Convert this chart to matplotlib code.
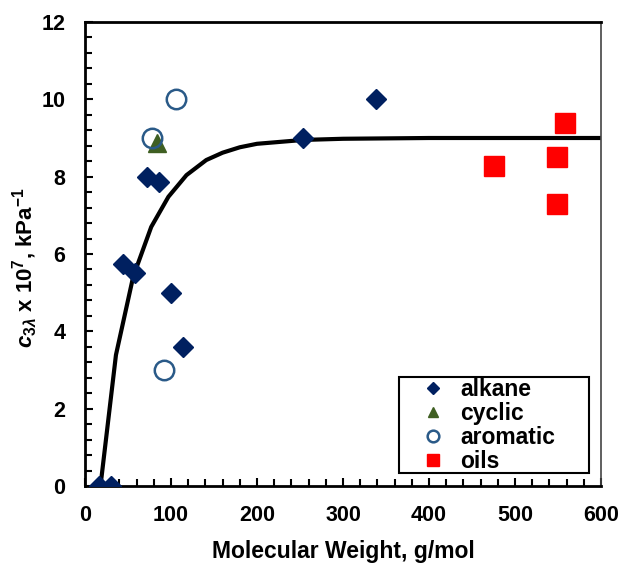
import matplotlib
matplotlib.use("Agg")
import matplotlib.pyplot as plt
from matplotlib.ticker import MultipleLocator
from matplotlib.patches import Rectangle

plt.rcParams['font.family'] = ['Liberation Sans', 'DejaVu Sans']
plt.rcParams['font.weight'] = 'bold'
plt.rcParams['mathtext.fontset'] = 'custom'
plt.rcParams['mathtext.rm'] = 'Liberation Sans:bold'
plt.rcParams['mathtext.it'] = 'Liberation Sans:italic'
plt.rcParams['mathtext.bf'] = 'Liberation Sans:bold'

# Measured data by compound class
alkane_mw = [16, 30, 44, 58, 72, 86, 100, 114, 254, 338]
alkane_c3 = [0.0, 0.0, 5.75, 5.5, 8.0, 7.85, 5.0, 3.6, 9.0, 10.0]

cyclic_mw = [84]
cyclic_c3 = [8.87]

aromatic_mw = [78, 92, 106]
aromatic_c3 = [9.0, 3.0, 10.0]

oils_mw = [475, 549, 549, 558]
oils_c3 = [8.27, 8.5, 7.3, 9.4]

# Fitted trend line
fit_mw = [18, 36, 56, 77, 97, 118, 141, 160, 180, 200, 227, 254, 300, 400, 500, 600]
fit_c3 = [0.0, 3.39, 5.41, 6.7, 7.48, 8.04, 8.43, 8.62, 8.76, 8.85, 8.9, 8.95, 8.98, 9.0, 9.0, 9.0]

fig = plt.figure(figsize=(6.22, 5.65), dpi=100)
ax = fig.add_axes([85/622, 79/565, 516/622, 464/565])

ax.plot(fit_mw, fit_c3, color='black', lw=3, zorder=2)
ax.plot(alkane_mw, alkane_c3, 'D', color='#002060', ms=10, ls='none', label='alkane', zorder=3)
ax.plot(cyclic_mw, cyclic_c3, '^', color='#3F5F22', ms=13, ls='none', label='cyclic', zorder=3)
ax.plot(aromatic_mw, aromatic_c3, 'o', mfc='none', mec='#2A5A88', mew=1.8, ms=14, ls='none', label='aromatic', zorder=4)
ax.plot(oils_mw, oils_c3, 's', color='#FF0000', ms=14, ls='none', label='oils', zorder=3)

ax.set_xlim(0, 600)
ax.set_ylim(0, 12)
ax.xaxis.set_major_locator(MultipleLocator(100))
ax.xaxis.set_minor_locator(MultipleLocator(20))
ax.yaxis.set_major_locator(MultipleLocator(2))
ax.yaxis.set_minor_locator(MultipleLocator(0.4))
ax.tick_params(which='both', direction='in', width=1.5, labelsize=15.5)
ax.tick_params(which='major', length=6)
ax.tick_params(which='minor', length=5)
ax.tick_params(axis='x', pad=14)
ax.tick_params(axis='y', pad=14)
for lab in ax.get_xticklabels() + ax.get_yticklabels():
    lab.set_fontweight('bold')

for side in ['left', 'bottom', 'top']:
    ax.spines[side].set_linewidth(2)
ax.spines['right'].set_linewidth(1.2)
ax.spines['right'].set_color('#444444')

ax.set_xlabel('Molecular Weight, g/mol', fontsize=16.5, fontweight='bold', labelpad=10)
ax.set_ylabel(r'$c_{3\lambda}$ x 10$^{7}$, kPa$^{-1}$', fontsize=16, fontweight='bold')
ax.yaxis.set_label_coords(-0.088, 0.47)

# Legend box with entries inside
ax.add_patch(Rectangle((0.6085, 0.028), 0.3682, 0.2069, transform=ax.transAxes,
                       fill=True, facecolor='white', edgecolor='black', lw=1.5, zorder=5))
leg = ax.legend(loc='center left', bbox_to_anchor=(0.652, 0.130), frameon=False,
                fontsize=16.5, handletextpad=0.68, borderpad=0.0, borderaxespad=0.0,
                labelspacing=0.04, markerscale=0.6, handlelength=1.0)
leg.set_zorder(6)
for t in leg.get_texts():
    t.set_fontweight('bold')

fig.savefig('out.png', dpi=100)
